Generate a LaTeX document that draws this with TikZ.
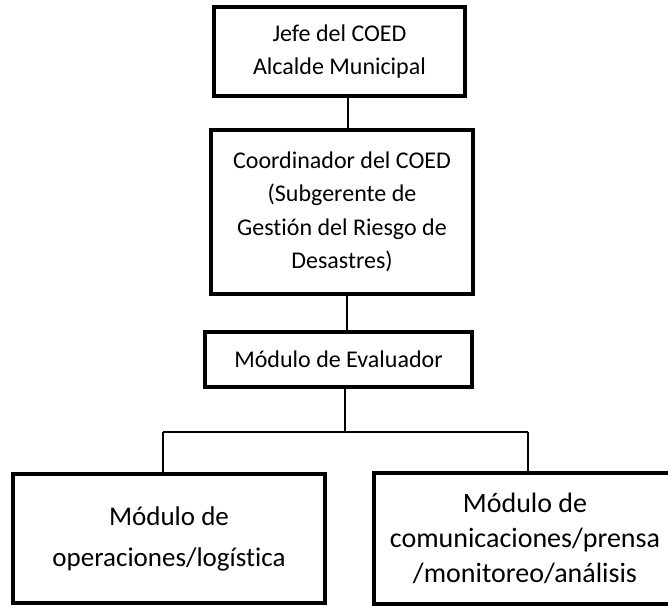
\documentclass[tikz,border=0pt]{standalone}
\usepackage{fontspec}
\setmainfont{Carlito}[Ligatures=NoCommon]
\usetikzlibrary{positioning}

\begin{document}
\begin{tikzpicture}[x=1pt, y=-1pt,
  caja/.style={draw, line width=4pt, fill=white, align=center, inner sep=0pt},
  linea/.style={line width=1.3pt}]

  \useasboundingbox (0,0) rectangle (668,607);
  \clip (0,0) rectangle (668,607);

  %% cajas
  \node[caja, minimum width=251pt, minimum height=89pt,
        font=\fontsize{24}{33.5}\selectfont] (jefe) at (339.5, 51.5)
        {Jefe del COED\\Alcalde Municipal};
  \node[caja, minimum width=262pt, minimum height=164pt,
        font=\fontsize{24}{33.5}\selectfont] (coord) at (342, 212)
        {Coordinador del COED\\(Subgerente de\\Gestión del Riesgo de\\Desastres)};
  \node[caja, minimum width=267pt, minimum height=55pt,
        font=\fontsize{24}{33.5}\selectfont] (eval) at (338.5, 359.5)
        {Módulo de Evaluador};
  \node[caja, minimum width=312pt, minimum height=129pt,
        font=\fontsize{27}{41}\selectfont] (izq) at (169, 538.5)
        {Módulo de\\operaciones/logística};
  \node[caja, minimum width=302pt, minimum height=131pt,
        font=\fontsize{28}{35}\selectfont] (der) at (525, 538.5)
        {Módulo de\\comunicaciones/prensa\\/monitoreo/análisis};

  %% conectores
  \coordinate (busL) at (163, 432);
  \coordinate (busR) at (528, 432);

  \draw[linea] ([xshift=8.5pt]jefe.south) coordinate (j1) -- (j1 |- coord.north); %% jefe->coord
  \draw[linea] ([xshift=5pt]coord.south) coordinate (c1) -- (c1 |- eval.north); %% coord->eval
  \draw[linea] ([xshift=6.5pt]eval.south) coordinate (e1) -- (e1 |- busL); %% eval->bus
  \draw[linea] (busL) -- (busR);
  \draw[linea] (busL) -- (busL |- izq.north);
  \draw[linea] (busR) -- (busR |- der.north);
\end{tikzpicture}
\end{document}
